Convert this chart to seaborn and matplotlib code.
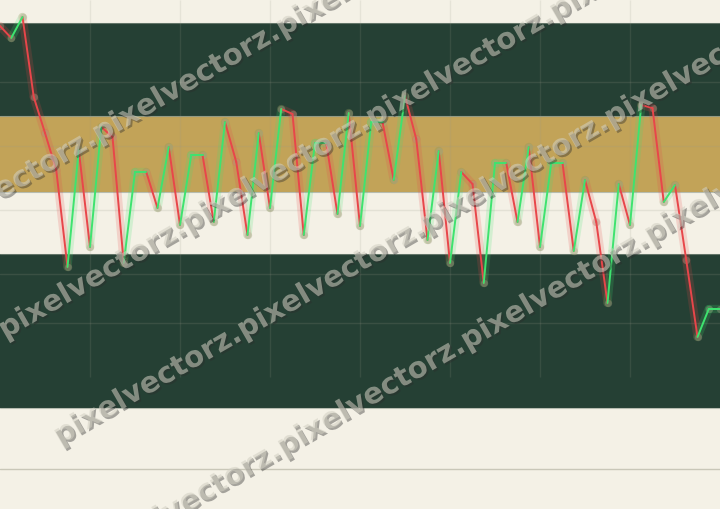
import pandas as pd
import seaborn as sns
import matplotlib.pyplot as plt
import matplotlib.patheffects as pe

# fiyat serisi (her nokta bir zaman adimi)
price = [110.75, 107.75, 113.0, 93.0, 84.0, 74.75, 50.5, 79.75, 55.5, 85.5,
         83.0, 51.5, 74.25, 74.25, 65.25, 80.5, 61.0, 78.5, 78.5, 61.75,
         86.75, 76.75, 58.5, 84.0, 65.25, 90.0, 88.75, 58.5, 81.5, 81.5,
         63.75, 89.0, 60.75, 86.75, 86.75, 72.25, 93.25, 82.5, 57.25, 79.5,
         51.5, 74.25, 71.25, 46.5, 76.5, 76.5, 61.75, 80.5, 55.5, 76.5,
         76.5, 54.5, 72.25, 61.75, 41.5, 71.25, 61.0, 91.0, 90.25, 66.75,
         71.0, 52.25, 33.0, 40.0, 40.0]

# arka plan bantlari
band_lo = [88.25, 69.25, 15.25]
band_hi = [111.5, 88.25, 53.75]
band_colors = ['#254034', '#c2a358', '#254034']

grid_y = [96.75, 80.75, 64.75, 48.75, 36.5]
grid_x = [8, 16, 24, 32, 40, 48, 56]

watermark = 'pixelvectorz.' * 6

CREAM = '#f4f1e6'
UP = '#3ee36f'
DOWN = '#e8464a'

# her iki nokta arasini ayri bir parca yap, yonune gore renklendir
rows = []
for i in range(len(price) - 1):
    d = 'down' if price[i + 1] < price[i] else 'up'
    rows.append((i, i, price[i], d))
    rows.append((i, i + 1, price[i + 1], d))
seg = pd.DataFrame(rows, columns=['seg', 't', 'price', 'dir'])
pts = pd.DataFrame({'t': range(len(price)), 'price': price})
pal = {'up': UP, 'down': DOWN}

sns.set_theme(style='white')
fig = plt.figure(figsize=(7.2, 5.09), dpi=100, facecolor=CREAM)
ax = fig.add_axes([0, 0, 1, 1])
ax.set_facecolor(CREAM)

for lo, hi, c in zip(band_lo, band_hi, band_colors):
    ax.axhspan(lo, hi, color=c, zorder=0, lw=0)
    ax.axhline(lo, color='#8d9a8c', lw=0.8, alpha=0.6, zorder=0.5)
    ax.axhline(hi, color='#8d9a8c', lw=0.8, alpha=0.6, zorder=0.5)

for gy in grid_y:
    ax.axhline(gy, color='#9a9a8a', lw=1, alpha=0.18, zorder=0.6)
ax.vlines(grid_x, 23, 117.25, color='#9a9a8a', lw=1, alpha=0.16, zorder=0.6)
ax.axhline(0, color='#c9c7b8', lw=1, zorder=0.6)

# isik efekti (glow), noktalar ve ana cizgi
sns.lineplot(data=seg, x='t', y='price', hue='dir', units='seg', estimator=None,
             palette=pal, lw=6, alpha=0.18, legend=False, sort=False, ax=ax,
             solid_capstyle='round', zorder=2)
sns.scatterplot(data=pts, x='t', y='price', color='#a8a58a', s=28, alpha=0.35,
                linewidth=0, legend=False, ax=ax, zorder=2.5)
sns.lineplot(data=seg, x='t', y='price', hue='dir', units='seg', estimator=None,
             palette=pal, lw=1.4, legend=False, sort=False, ax=ax,
             solid_capstyle='round', zorder=3)

ax.set_xlim(0, 64)
ax.set_ylim(-10, 117.25)
ax.set_axis_off()

# filigran satirlari (piksel: satirin x=0'daki yuksekligi, baslangic x)
W, H = 720, 509
tan30 = 0.5774
for b, x0 in [(200, -85), (342, 5), (480, 60), (620, 100)]:
    y0 = b - tan30 * x0
    fig.text(x0 / W, 1 - y0 / H, watermark, rotation=30, rotation_mode='anchor',
             ha='left', va='baseline', fontsize=21, fontweight='bold',
             family='DejaVu Sans', color='#d2d0c3', alpha=0.55, zorder=10,
             path_effects=[pe.SimplePatchShadow(offset=(1.3, -1.3), shadow_rgbFace='#2c2c2c', alpha=0.4),
                           pe.Normal()])

fig.savefig('out.png', dpi=100, facecolor=CREAM)
